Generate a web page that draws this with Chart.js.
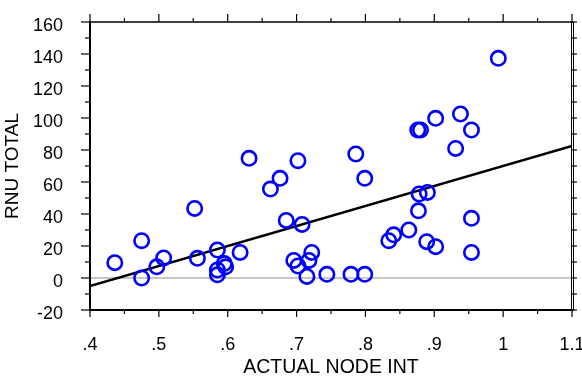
<!DOCTYPE html>
<html>
<head>
<meta charset="utf-8">
<title>RNU total vs actual node int</title>
<script src="https://cdn.jsdelivr.net/npm/chart.js@4/dist/chart.umd.min.js"></script>
<style>
  html, body { margin: 0; padding: 0; background: #fff; }
  #chart { display: block; }
</style>
</head>
<body>
<canvas id="chart" width="582" height="380"></canvas>
<script>
// observations
const nodeInt = [
  0.436, 0.475, 0.475, 0.497, 0.507, 0.552, 0.556, 0.585, 0.585, 0.585,
  0.595, 0.597, 0.618, 0.631, 0.662, 0.676, 0.702, 0.685, 0.708, 0.696,
  0.702, 0.722, 0.718, 0.715, 0.744, 0.779, 0.799, 0.786, 0.799, 0.834,
  0.841, 0.863, 0.878, 0.890, 0.877, 0.889, 0.902, 0.954, 0.954, 0.993,
  0.876, 0.880, 0.902, 0.938, 0.954, 0.931
];
const rnuTotal = [
  9.6, 23.3, 0, 7, 12.5, 43.5, 12.3, 17.5, 5, 2,
  9, 7, 16, 74.8, 55.6, 62.3, 73.3, 36, 33.5, 11,
  7.5, 16, 11, 1, 2.3, 2.3, 2.3, 77.5, 62.3, 23.3,
  27, 30, 52.5, 53.5, 42, 22.7, 19.6, 37.3, 16, 137.3,
  92.5, 92.5, 99.8, 102.5, 92.5, 81
];

// fitted line end points and the zero reference
const fitX = [0.4, 1.1];
const fitY = [-5, 82.5];
const zeroY = [0, 0];

const xMin = 0.4, xMax = 1.1, xStep = 0.1;
const yMin = -20, yMax = 160, yStep = 20;

const FONT = '"Liberation Sans", Arial, sans-serif';

const pairs = (xs, ys) => xs.map((x, i) => ({ x: x, y: ys[i] }));

const fmtX = v => {
  const r = Math.round(v * 10) / 10;
  return String(r).replace(/^0\./, '.');
};

// labels may hang past the plot edges; don't let them shrink the plot
const noEdgePadding = scale => {
  scale.paddingLeft = 0;
  scale.paddingRight = 0;
  scale.paddingTop = 0;
  scale.paddingBottom = 0;
};

// box around the plot with outward tick marks (major + midway minor)
const frameTicks = {
  id: 'frameTicks',
  afterDraw(chart) {
    const ctx = chart.ctx;
    const { left, right, top, bottom } = chart.chartArea;
    const xs = chart.scales.x, ys = chart.scales.y;
    const xv = xs.ticks.map(t => t.value);
    const yv = ys.ticks.map(t => t.value);
    const xMinor = xv.slice(1).map((v, i) => (v + xv[i]) / 2);
    const yMinor = yv.slice(1).map((v, i) => (v + yv[i]) / 2);

    ctx.save();
    ctx.strokeStyle = '#000';
    ctx.lineCap = 'butt';

    const seg = (x1, y1, x2, y2, w) => {
      ctx.lineWidth = w;
      ctx.beginPath();
      ctx.moveTo(x1, y1);
      ctx.lineTo(x2, y2);
      ctx.stroke();
    };

    // frame
    seg(left, top, right + 1, top, 1.5);
    seg(left, top - 1, left, bottom + 1, 2);
    seg(left - 1, bottom, right + 2, bottom, 2);
    seg(right - 0.5, top, right - 0.5, bottom, 1);
    seg(right + 1.5, top, right + 1.5, bottom, 1);

    // x ticks top and bottom
    xv.forEach(v => {
      const px = xs.getPixelForValue(v);
      seg(px, top, px, top - 8, 1.2);
      seg(px, bottom, px, bottom + 7, 1.2);
    });
    xMinor.forEach(v => {
      const px = xs.getPixelForValue(v);
      seg(px, top, px, top - 4, 1.2);
      seg(px, bottom, px, bottom + 4, 1.2);
    });

    // y ticks left and right
    yv.forEach(v => {
      const py = ys.getPixelForValue(v);
      seg(left, py, left - 9, py, 1.2);
      seg(right, py, right + 5, py, 1.2);
    });
    yMinor.forEach(v => {
      const py = ys.getPixelForValue(v);
      seg(left, py, left - 5, py, 1.2);
      seg(right, py, right + 5, py, 1.2);
    });
    ctx.restore();
  }
};

const ctx = document.getElementById('chart').getContext('2d');

new Chart(ctx, {
  type: 'scatter',
  data: {
    datasets: [
      {
        label: 'zero',
        data: pairs(fitX, zeroY),
        showLine: true,
        borderColor: '#b4b4b4',
        borderWidth: 1.5,
        pointRadius: 0,
        order: 3
      },
      {
        label: 'fit',
        data: pairs(fitX, fitY),
        showLine: true,
        borderColor: '#000',
        borderWidth: 2.5,
        pointRadius: 0,
        order: 2
      },
      {
        label: 'RNU TOTAL',
        data: pairs(nodeInt, rnuTotal),
        pointStyle: 'circle',
        pointRadius: 7.2,
        pointBorderWidth: 2.6,
        pointBorderColor: '#0000ff',
        pointBackgroundColor: 'rgba(0,0,0,0)',
        order: 1
      }
    ]
  },
  options: {
    responsive: false,
    animation: false,
    devicePixelRatio: 1,
    layout: { padding: { top: 22, right: 10, left: 0, bottom: 0 } },
    plugins: {
      legend: { display: false },
      tooltip: { enabled: false }
    },
    scales: {
      x: {
        type: 'linear',
        position: 'bottom',
        min: xMin,
        max: xMax,
        grid: { display: false, drawTicks: false },
        border: { display: false },
        ticks: {
          stepSize: xStep,
          color: '#000',
          padding: 24,
          maxRotation: 0,
          font: { family: FONT, size: 18 },
          callback: v => fmtX(v)
        },
        title: {
          display: true,
          text: 'ACTUAL NODE INT',
          color: '#000',
          font: { family: FONT, size: 19.5 },
          padding: { top: 0, bottom: 1 }
        },
        afterFit: scale => { scale.height = 70; noEdgePadding(scale); }
      },
      y: {
        type: 'linear',
        position: 'left',
        min: yMin,
        max: yMax,
        grid: { display: false, drawTicks: false },
        border: { display: false },
        ticks: {
          stepSize: yStep,
          color: '#000',
          padding: 27,
          labelOffset: 4,
          font: { family: FONT, size: 18 }
        },
        title: {
          display: true,
          text: 'RNU TOTAL',
          color: '#000',
          font: { family: FONT, size: 19 },
          padding: { top: 1, bottom: 0 }
        },
        afterFit: scale => { scale.width = 90; noEdgePadding(scale); }
      }
    }
  },
  plugins: [frameTicks]
});
</script>
</body>
</html>
